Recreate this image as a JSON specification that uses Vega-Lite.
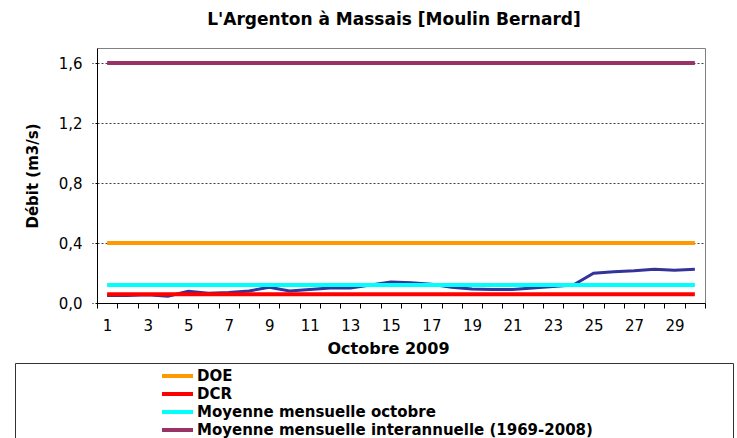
{
  "$schema": "https://vega.github.io/schema/vega-lite/v6.json",
  "width": 608,
  "height": 255,
  "autosize": {"type": "none"},
  "padding": {"left": 97, "top": 48, "right": 32, "bottom": 135},
  "background": "white",
  "title": {
    "text": "L'Argenton à Massais [Moulin Bernard]",
    "font": "DejaVu Sans",
    "fontSize": 17,
    "fontWeight": "bold",
    "color": "black",
    "anchor": "middle",
    "dx": -7,
    "offset": 19
  },
  "config": {
    "view": {"stroke": "#808080", "strokeWidth": 1},
    "axis": {
      "labelFont": "DejaVu Sans",
      "titleFont": "DejaVu Sans",
      "labelColor": "black",
      "titleColor": "black",
      "tickColor": "black",
      "domainColor": "black"
    }
  },
  "datasets": {
    "debit": [
      {"day": 1, "value": 0.05},
      {"day": 2, "value": 0.05},
      {"day": 3, "value": 0.055},
      {"day": 4, "value": 0.045},
      {"day": 5, "value": 0.078},
      {"day": 6, "value": 0.065},
      {"day": 7, "value": 0.07},
      {"day": 8, "value": 0.08},
      {"day": 9, "value": 0.105},
      {"day": 10, "value": 0.08},
      {"day": 11, "value": 0.09},
      {"day": 12, "value": 0.1},
      {"day": 13, "value": 0.1},
      {"day": 14, "value": 0.12},
      {"day": 15, "value": 0.14},
      {"day": 16, "value": 0.135},
      {"day": 17, "value": 0.125},
      {"day": 18, "value": 0.105},
      {"day": 19, "value": 0.093},
      {"day": 20, "value": 0.09},
      {"day": 21, "value": 0.09},
      {"day": 22, "value": 0.1},
      {"day": 23, "value": 0.11},
      {"day": 24, "value": 0.12},
      {"day": 25, "value": 0.198},
      {"day": 26, "value": 0.208},
      {"day": 27, "value": 0.215},
      {"day": 28, "value": 0.225},
      {"day": 29, "value": 0.218},
      {"day": 30, "value": 0.225}
    ],
    "seuils": [
      {"day": 1, "series": "Moyenne mensuelle interannuelle (1969-2008)", "value": 1.6},
      {"day": 30, "series": "Moyenne mensuelle interannuelle (1969-2008)", "value": 1.6},
      {"day": 1, "series": "DOE", "value": 0.4},
      {"day": 30, "series": "DOE", "value": 0.4},
      {"day": 1, "series": "Moyenne mensuelle octobre", "value": 0.12},
      {"day": 30, "series": "Moyenne mensuelle octobre", "value": 0.12},
      {"day": 1, "series": "DCR", "value": 0.058},
      {"day": 30, "series": "DCR", "value": 0.058}
    ]
  },
  "encoding": {
    "x": {
      "field": "day",
      "type": "ordinal",
      "scale": {"paddingInner": 0, "paddingOuter": 0},
      "axis": {
        "title": "Octobre 2009",
        "titleFontSize": 16,
        "titleFontWeight": "bold",
        "titlePadding": 7,
        "titleX": 291,
        "titleAlign": "center",
        "labelFontSize": 15,
        "labelAngle": 0,
        "labelPadding": 10,
        "tickSize": 5,
        "tickBand": "extent",
        "labelExpr": "datum.value % 2 == 1 ? datum.label : ''",
        "grid": false
      }
    },
    "y": {
      "field": "value",
      "type": "quantitative",
      "scale": {"domain": [0, 1.7], "nice": false, "zero": true},
      "axis": {
        "title": "Débit (m3/s)",
        "titleFontSize": 15,
        "titleFontWeight": "bold",
        "titlePadding": 18,
        "labelFontSize": 15,
        "labelPadding": 10,
        "tickSize": 5,
        "values": [0, 0.4, 0.8, 1.2, 1.6],
        "labelExpr": "replace(format(datum.value, '.1f'), '.', ',')",
        "grid": true,
        "gridColor": "#404040",
        "gridDash": [2, 2],
        "gridWidth": 1,
        "tickDash": [2, 2]
      }
    }
  },
  "layer": [
    {
      "data": {"name": "debit"},
      "mark": {"type": "line", "color": "#333399", "strokeWidth": 3},
      "encoding": {}
    },
    {
      "data": {"name": "seuils"},
      "mark": {"type": "line", "strokeWidth": 4},
      "encoding": {
        "color": {
          "field": "series",
          "type": "nominal",
          "scale": {
            "domain": ["DOE", "DCR", "Moyenne mensuelle octobre", "Moyenne mensuelle interannuelle (1969-2008)"],
            "range": ["#FF9900", "#FF0000", "#00FFFF", "#993366"]
          },
          "legend": {
            "title": "\u00a0",
            "titleOrient": "bottom",
            "titleFontSize": 20,
            "titleFont": "DejaVu Sans",
            "titlePadding": 4,
            "orient": "none",
            "legendX": -82,
            "legendY": 315,
            "padding": 4,
            "strokeColor": "#333333",
            "fillColor": "white",
            "symbolType": "stroke",
            "symbolSize": 961,
            "symbolStrokeWidth": 4,
            "symbolOffset": 141,
            "labelFont": "DejaVu Sans",
            "labelFontSize": 15,
            "labelFontWeight": "bold",
            "labelColor": "black",
            "labelOffset": 2,
            "labelLimit": 800,
            "labelExpr": "datum.label + '\u00a0\u00a0\u00a0\u00a0\u00a0\u00a0\u00a0\u00a0\u00a0\u00a0\u00a0\u00a0\u00a0\u00a0\u00a0\u00a0\u00a0\u00a0\u00a0\u00a0\u00a0\u00a0\u00a0\u00a0\u00a0\u00a0\u200b'",
            "clipHeight": 18,
            "rowPadding": 0
          }
        }
      }
    }
  ]
}
